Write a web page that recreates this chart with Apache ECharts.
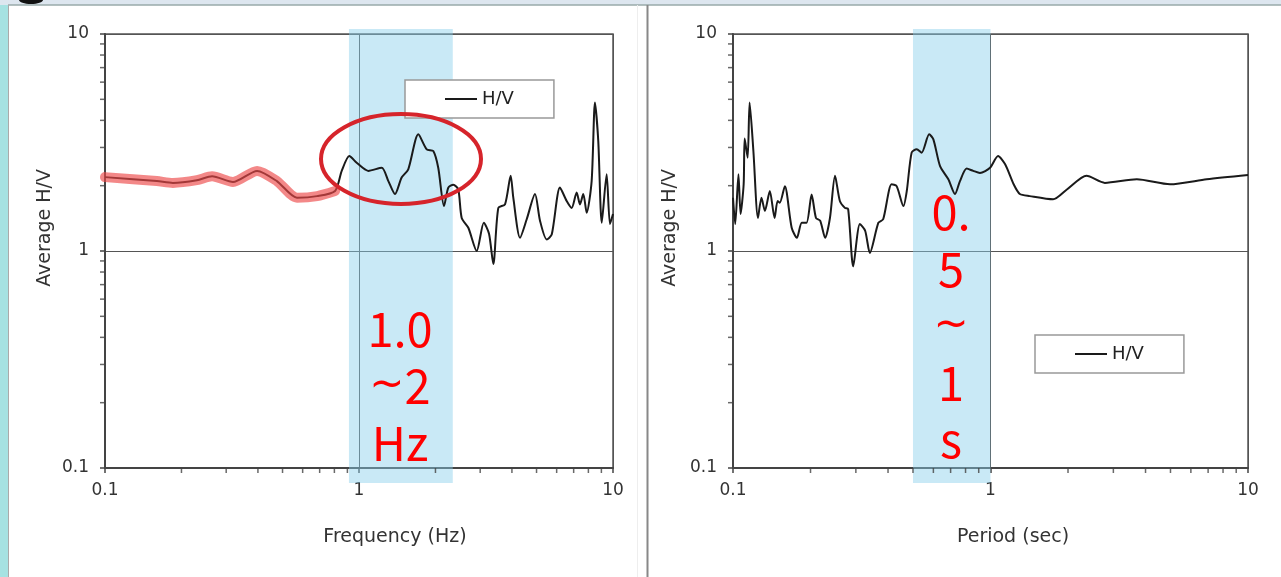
<!DOCTYPE html>
<html>
<head>
<meta charset="utf-8">
<script src="https://cdn.jsdelivr.net/npm/echarts@6/dist/echarts.min.js"></script>
<style>
html,body{margin:0;padding:0;background:#fff;}
#chart{width:1281px;height:577px;}
</style>
</head>
<body>
<div id="chart"></div>
<script>
// ---- Left panel: H/V spectrum vs frequency ----
const freq = [0.1, 0.16, 0.185, 0.23, 0.264, 0.319, 0.397, 0.475, 0.57, 0.684, 0.805,
  0.855, 0.916, 0.979, 1.088, 1.229, 1.305, 1.386, 1.472, 1.563, 1.712, 1.848, 1.961,
  2.051, 2.161, 2.247, 2.352, 2.46, 2.537, 2.694, 2.907, 3.1, 3.25, 3.38, 3.536, 3.757,
  3.955, 4.05, 4.305, 4.574, 4.931, 5.16, 5.483, 5.738, 6.183, 6.571, 6.876, 7.194,
  7.413, 7.638, 7.88, 8.24, 8.49, 8.75, 9.03, 9.44, 9.73, 10.0];
const hvFreq = [2.19, 2.10, 2.06, 2.12, 2.21, 2.08, 2.34, 2.10, 1.76, 1.79, 1.89,
  2.34, 2.74, 2.55, 2.34, 2.42, 2.10, 1.83, 2.18, 2.38, 3.45, 2.94, 2.89,
  2.42, 1.61, 1.96, 2.02, 1.92, 1.42, 1.28, 1.00, 1.35, 1.20, 0.87, 1.58, 1.64,
  2.22, 1.76, 1.15, 1.40, 1.83, 1.38, 1.13, 1.19, 1.96, 1.70, 1.58, 1.86,
  1.64, 1.83, 1.50, 2.10, 4.83, 3.21, 1.35, 2.26, 1.33, 1.48];
const highlightMaxFreq = 0.81;        // red highlighted low-frequency part
const bandFreq = [0.913, 2.34];       // blue band 1.0~2 Hz

// ---- Right panel: H/V spectrum vs period ----
const period = [0.1, 0.102, 0.105, 0.107, 0.110, 0.111, 0.114, 0.116, 0.120, 0.125,
  0.129, 0.133, 0.139, 0.145, 0.149, 0.152, 0.159, 0.169, 0.177, 0.185, 0.193, 0.202,
  0.21, 0.218, 0.228, 0.238, 0.249, 0.26, 0.272, 0.28, 0.293, 0.311, 0.326, 0.34,
  0.367, 0.383, 0.413, 0.432, 0.459, 0.473, 0.494, 0.517, 0.54, 0.578, 0.60, 0.637,
  0.686, 0.728, 0.761, 0.808, 0.857, 0.91, 0.996, 1.07, 1.14, 1.23, 1.30, 1.42, 1.75,
  1.98, 2.36, 2.78, 3.70, 4.98, 6.91, 10.0];
const hvPeriod = [1.76, 1.33, 2.26, 1.48, 2.03, 3.30, 2.69, 4.83, 2.89, 1.42,
  1.76, 1.53, 1.89, 1.42, 1.70, 1.67, 1.99, 1.28, 1.15, 1.35, 1.35, 1.82,
  1.42, 1.38, 1.15, 1.42, 2.22, 1.70, 1.58, 1.56, 0.85, 1.33, 1.24, 0.98,
  1.35, 1.40, 2.03, 1.99, 1.61, 1.89, 2.84, 2.94, 2.84, 3.45, 3.27, 2.46,
  2.14, 1.83, 2.10, 2.40, 2.34, 2.29, 2.42, 2.74, 2.51, 2.03, 1.83, 1.79, 1.73,
  1.92, 2.22, 2.06, 2.14, 2.03, 2.14, 2.24];
const bandPeriod = [0.5, 1.0];        // blue band 0.5~1 s

// ---- Axis decoration ----
const minorTicks = [0.2, 0.3, 0.4, 0.5, 0.6, 0.7, 0.8, 0.9, 2, 3, 4, 5, 6, 7, 8, 9];
const axisMin = 0.1, axisMax = 10;

const zip = (a, b) => a.map((v, i) => [v, b[i]]);
const leftData = zip(freq, hvFreq);
const highlightData = leftData.filter(p => p[0] <= highlightMaxFreq);
const rightData = zip(period, hvPeriod);

const AX = '#444';
const FONT = 'DejaVu Sans';
const labelFont = {color: '#333', fontSize: 17, fontFamily: FONT};

function xAxis(gi) {
  return {
    type: 'log', logBase: 10, min: axisMin, max: axisMax, gridIndex: gi,
    axisLine: {show: true, onZero: false, lineStyle: {color: AX, width: 2}},
    axisTick: {show: true, length: 5, lineStyle: {color: AX, width: 1.5}},
    axisLabel: Object.assign({margin: 14, formatter: v => String(+v.toPrecision(3))}, labelFont),
    splitLine: {show: true, lineStyle: {color: '#555', width: 1}},
    minorTick: {show: false}
  };
}
function yAxis(gi) {
  return {
    type: 'log', logBase: 10, min: axisMin, max: axisMax, gridIndex: gi,
    axisLine: {show: true, onZero: false, lineStyle: {color: AX, width: 2}},
    axisTick: {show: true, length: 5, lineStyle: {color: AX, width: 1.5}},
    axisLabel: Object.assign({margin: 16, formatter: v => String(+v.toPrecision(3))}, labelFont),
    splitLine: {show: true, lineStyle: {color: '#555', width: 1}}
  };
}
function tickSeries(gi) {
  return [
    {type: 'scatter', xAxisIndex: gi, yAxisIndex: gi, silent: true, clip: false,
     symbol: 'rect', symbolSize: [1.5, 5], symbolOffset: [0, 2.5],
     itemStyle: {color: AX}, data: minorTicks.map(v => [v, axisMin]), z: 6},
    {type: 'scatter', xAxisIndex: gi, yAxisIndex: gi, silent: true, clip: false,
     symbol: 'rect', symbolSize: [5, 1.5], symbolOffset: [-2.5, 0],
     itemStyle: {color: AX}, data: minorTicks.map(v => [axisMin, v]), z: 6}
  ];
}
function bandSeries(gi, band) {
  return {
    type: 'line', xAxisIndex: gi, yAxisIndex: gi, data: [], silent: true, z: 5,
    markArea: {silent: true, itemStyle: {color: 'rgba(135,206,235,0.45)'},
      data: [[{xAxis: band[0], y: 29}, {xAxis: band[1], y: 483}]]}
  };
}
const legendCommon = {
  data: ['H/V'], orient: 'horizontal', backgroundColor: '#fff',
  borderColor: '#999', borderWidth: 1.5, borderRadius: 0,
  padding: [10, 40, 10, 40], icon: 'rect', itemWidth: 32, itemHeight: 2, itemGap: 5,
  textStyle: {fontSize: 18, color: '#222', fontFamily: FONT}
};

const redRich = {
  n: {fontSize: 47, lineHeight: 57, fill: '#ff0000', color: '#ff0000', fontFamily: 'Noto Sans CJK JP'},
  t: {fontSize: 42, lineHeight: 57, fill: '#ff0000', color: '#ff0000', fontFamily: 'DejaVu Sans'}
};

const chart = echarts.init(document.getElementById('chart'), null, {renderer: 'canvas'});
chart.setOption({
  animation: false,
  backgroundColor: '#fff',
  grid: [
    {left: 105, top: 34, width: 508, height: 434, show: true, borderColor: '#555', borderWidth: 1.5, backgroundColor: 'transparent'},
    {left: 733, top: 34, width: 515, height: 434, show: true, borderColor: '#555', borderWidth: 1.5, backgroundColor: 'transparent'}
  ],
  xAxis: [xAxis(0), xAxis(1)],
  yAxis: [yAxis(0), yAxis(1)],
  legend: [
    Object.assign({left: 405, top: 80}, legendCommon),
    Object.assign({left: 1035, top: 335}, legendCommon)
  ],
  series: [
    {name: 'H/V', type: 'line', xAxisIndex: 0, yAxisIndex: 0, data: leftData, smooth: 0.25,
     showSymbol: false, lineStyle: {color: '#1a1a1a', width: 2}, itemStyle: {color: '#1a1a1a'}, z: 3},
    {name: 'highlight', type: 'line', xAxisIndex: 0, yAxisIndex: 0, data: highlightData, smooth: 0.25,
     showSymbol: false, silent: true, lineStyle: {color: 'rgba(236,72,72,0.65)', width: 10, cap: 'round'}, z: 4},
    bandSeries(0, bandFreq),
    {name: 'H/V', type: 'line', xAxisIndex: 1, yAxisIndex: 1, data: rightData, smooth: 0.25,
     showSymbol: false, lineStyle: {color: '#1a1a1a', width: 2}, itemStyle: {color: '#1a1a1a'}, z: 3},
    bandSeries(1, bandPeriod),
    ...tickSeries(0), ...tickSeries(1)
  ],
  graphic: [
    {type: 'rect', shape: {x: 0, y: 0, width: 1281, height: 5}, style: {fill: '#dde6ef'}, z: -10},
    {type: 'rect', shape: {x: 0, y: 5, width: 8, height: 572}, style: {fill: '#a6e2e2'}, z: -10},
    {type: 'ellipse', shape: {cx: 31, cy: 0, rx: 12, ry: 4}, style: {fill: '#111'}, z: -9},
    {type: 'line', shape: {x1: 8, y1: 5, x2: 1281, y2: 5}, style: {stroke: '#9aa', lineWidth: 1.5}},
    {type: 'line', shape: {x1: 8.5, y1: 5, x2: 8.5, y2: 577}, style: {stroke: '#aaa', lineWidth: 1}},
    {type: 'line', shape: {x1: 647.5, y1: 5, x2: 647.5, y2: 577}, style: {stroke: '#888', lineWidth: 2}},
    {type: 'line', shape: {x1: 637.5, y1: 5, x2: 637.5, y2: 577}, style: {stroke: '#eee', lineWidth: 1}},
    // axis titles
    {type: 'text', x: 395, y: 537, style: {text: 'Frequency (Hz)', align: 'center', verticalAlign: 'middle', fontSize: 19, fill: '#333', fontFamily: FONT}},
    {type: 'text', x: 1013, y: 537, style: {text: 'Period (sec)', align: 'center', verticalAlign: 'middle', fontSize: 19, fill: '#333', fontFamily: FONT}},
    {type: 'text', x: 45, y: 228, rotation: Math.PI / 2, style: {text: 'Average H/V', align: 'center', verticalAlign: 'middle', fontSize: 19, fill: '#333', fontFamily: FONT}},
    {type: 'text', x: 670, y: 228, rotation: Math.PI / 2, style: {text: 'Average H/V', align: 'center', verticalAlign: 'middle', fontSize: 19, fill: '#333', fontFamily: FONT}},
    // annotations
    {type: 'ellipse', shape: {cx: 401, cy: 159, rx: 80, ry: 45}, style: {fill: 'none', stroke: '#d6242b', lineWidth: 4}, z: 100},
    {type: 'text', x: 400, y: 386, z: 100, style: {text: '{n|1.0}\n{t|~}{n|2}\n{n|Hz}', rich: redRich, align: 'center', verticalAlign: 'middle', fill: '#ff0000', fontSize: 47, lineHeight: 57, fontFamily: 'Noto Sans CJK JP'}},
    {type: 'text', x: 951, y: 326, z: 100, style: {text: '{n|0.}\n{n|5}\n{t|~}\n{n|1}\n{n|s}', rich: redRich, align: 'center', verticalAlign: 'middle', fill: '#ff0000', fontSize: 47, lineHeight: 58, fontFamily: 'Noto Sans CJK JP'}}
  ]
});
</script>
</body>
</html>
